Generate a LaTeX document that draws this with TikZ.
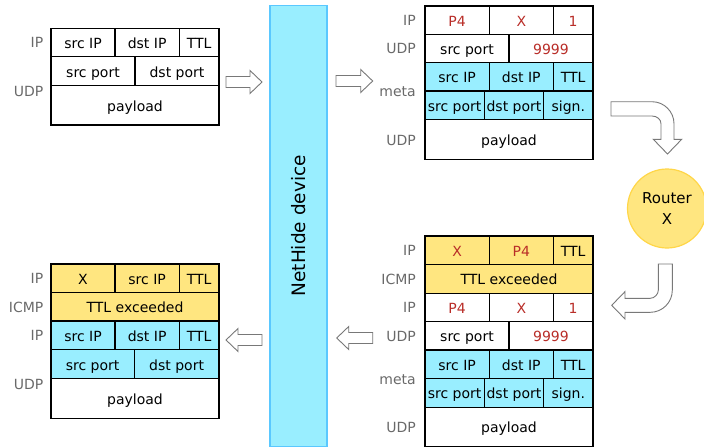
\documentclass[tikz,border=0pt]{standalone}
\usepackage{fontspec}
\setmainfont{DejaVu Sans}
\definecolor{cellcyan}{RGB}{153,238,255}
\definecolor{cellyellow}{RGB}{255,230,128}
\definecolor{barline}{RGB}{90,200,255}
\definecolor{routerline}{RGB}{255,214,72}
\definecolor{hot}{RGB}{185,45,40}
\definecolor{labelgray}{RGB}{105,105,105}
\definecolor{arrowgray}{RGB}{120,120,120}

% one header field: name, x1, y1, x2, y2, fill, text
\newcommand\pcell[7]{%
  \node[cellbox, fill=#6, minimum width={(#4-#2)*1pt}, minimum height={(#5-#3)*1pt}]
    (#1) at ({(#2+#4)/2},{(#3+#5)/2}) {#7};}

% hollow block arrow from x=#1 (back) to x=#2 (tip) at height #3
\newcommand\flowarrow[3]{%
  \draw[blockarrow] (#1,#3-5.5) -- ({#2-(#2-#1)/abs(#2-#1)*12},#3-5.5)
    -- ({#2-(#2-#1)/abs(#2-#1)*12},#3-11.5) -- (#2,#3)
    -- ({#2-(#2-#1)/abs(#2-#1)*12},#3+11.5) -- ({#2-(#2-#1)/abs(#2-#1)*12},#3+5.5)
    -- (#1,#3+5.5) -- cycle;}

\begin{document}
\begin{tikzpicture}[x=1pt,y=-1pt,
  font=\fontsize{14}{16}\selectfont,
  cellbox/.style={draw=black, line width=1.2pt, inner sep=0pt, outer sep=0pt,
    text height=13pt, text depth=1pt},
  hdr/.style={anchor=east, text=labelgray, inner sep=0pt,
    text height=13pt, text depth=1pt},
  blockarrow/.style={draw=arrowgray, fill=white, line width=0.9pt, line join=miter},
  bentarrow/.style={draw=arrowgray, fill=white, line width=0.9pt, line join=miter}
]
\useasboundingbox (0,0) rectangle (704,447);

% ---------------- NetHide device ----------------
\node[draw=barline, fill=cellcyan, line width=1.5pt, minimum width=57pt,
  minimum height=441pt, inner sep=0pt] (nethide) at (298.5,225.75) {};
\node[rotate=90, font=\fontsize{18.5}{20}\selectfont] (nethidelabel)
  at (nethide.center) {NetHide device};

% ---------------- original probe (top left) ----------------
\pcell{a1}{51}{28.3}{115}{56.7}{white}{src IP}
\pcell{a2}{115}{28.3}{179.3}{56.7}{white}{dst IP}
\pcell{a3}{179.3}{28.3}{219}{56.7}{white}{TTL}
\pcell{a4}{51}{56.7}{135}{85.7}{white}{src port}
\pcell{a5}{135}{56.7}{219}{85.7}{white}{dst port}
\pcell{a6}{51}{85.7}{219}{125}{white}{payload}
\node[hdr] (la1) at (43.5,41.5) {IP};
\node[hdr] (la2) at (43.5,90) {UDP};

% ---------------- rewritten probe (top right) ----------------
\pcell{b1}{425}{6}{489.3}{34.3}{white}{\textcolor{hot}{P4}}
\pcell{b2}{489.3}{6}{553.3}{34.3}{white}{\textcolor{hot}{X}}
\pcell{b3}{553.3}{6}{593}{34.3}{white}{\textcolor{hot}{1}}
\pcell{b4}{425}{34.3}{509}{62.7}{white}{src port}
\pcell{b5}{509}{34.3}{593}{62.7}{white}{\textcolor{hot}{9999}}
\pcell{b6}{425}{62.7}{489.3}{91}{cellcyan}{src IP}
\pcell{b7}{489.3}{62.7}{553.3}{91}{cellcyan}{dst IP}
\pcell{b8}{553.3}{62.7}{593}{91}{cellcyan}{TTL}
\pcell{b9}{425}{91}{484.3}{119.7}{cellcyan}{src port}
\pcell{b10}{484.3}{91}{543.7}{119.7}{cellcyan}{dst port}
\pcell{b11}{543.7}{91}{593}{119.7}{cellcyan}{sign.}
\pcell{b12}{425}{119.7}{593}{159.3}{white}{payload}
\node[hdr] (lb1) at (416,19.2) {IP};
\node[hdr] (lb2) at (416,47.7) {UDP};
\node[hdr] (lb3) at (416,90.5) {meta};
\node[hdr] (lb4) at (416,139) {UDP};

% ---------------- router ----------------
\node[circle, draw=routerline, fill=cellyellow, line width=1.2pt, minimum size=79pt,
  inner sep=0pt, align=center, font=\fontsize{15}{20.5}\selectfont]
  (router) at (667,208.5) {Router\\X};

% ---------------- ICMP reply (bottom right) ----------------
\pcell{c1}{425}{236}{489.3}{264.3}{cellyellow}{\textcolor{hot}{X}}
\pcell{c2}{489.3}{236}{553.3}{264.3}{cellyellow}{\textcolor{hot}{P4}}
\pcell{c3}{553.3}{236}{593}{264.3}{cellyellow}{TTL}
\pcell{c4}{425}{264.3}{593}{293.3}{cellyellow}{TTL exceeded}
\pcell{c5}{425}{293.3}{489.3}{321.7}{white}{\textcolor{hot}{P4}}
\pcell{c6}{489.3}{293.3}{553.3}{321.7}{white}{\textcolor{hot}{X}}
\pcell{c7}{553.3}{293.3}{593}{321.7}{white}{\textcolor{hot}{1}}
\pcell{c8}{425}{321.7}{509}{350}{white}{src port}
\pcell{c9}{509}{321.7}{593}{350}{white}{\textcolor{hot}{9999}}
\pcell{c10}{425}{350}{489.3}{378.3}{cellcyan}{src IP}
\pcell{c11}{489.3}{350}{553.3}{378.3}{cellcyan}{dst IP}
\pcell{c12}{553.3}{350}{593}{378.3}{cellcyan}{TTL}
\pcell{c13}{425}{378.3}{484.3}{407.3}{cellcyan}{src port}
\pcell{c14}{484.3}{378.3}{543.7}{407.3}{cellcyan}{dst port}
\pcell{c15}{543.7}{378.3}{593}{407.3}{cellcyan}{sign.}
\pcell{c16}{425}{407.3}{593}{446.3}{white}{payload}
\node[hdr] (lc1) at (416,249.3) {IP};
\node[hdr] (lc2) at (416,278) {ICMP};
\node[hdr] (lc3) at (416,306.6) {IP};
\node[hdr] (lc4) at (416,335) {UDP};
\node[hdr] (lc5) at (416,378) {meta};
\node[hdr] (lc6) at (416,426) {UDP};

% ---------------- restored reply (bottom left) ----------------
\pcell{d1}{51}{264}{115}{292.3}{cellyellow}{X}
\pcell{d2}{115}{264}{179.3}{292.3}{cellyellow}{src IP}
\pcell{d3}{179.3}{264}{219}{292.3}{cellyellow}{TTL}
\pcell{d4}{51}{292.3}{219}{321}{cellyellow}{TTL exceeded}
\pcell{d5}{51}{321}{115}{349.7}{cellcyan}{src IP}
\pcell{d6}{115}{321}{179.3}{349.7}{cellcyan}{dst IP}
\pcell{d7}{179.3}{321}{219}{349.7}{cellcyan}{TTL}
\pcell{d8}{51}{349.7}{134.3}{378.3}{cellcyan}{src port}
\pcell{d9}{134.3}{349.7}{219}{378.3}{cellcyan}{dst port}
\pcell{d10}{51}{378.3}{219}{418.3}{white}{payload}
\node[hdr] (ld1) at (43.5,277.3) {IP};
\node[hdr] (ld2) at (43.5,306) {ICMP};
\node[hdr] (ld3) at (43.5,334.5) {IP};
\node[hdr] (ld4) at (43.5,383.5) {UDP};

% ---------------- straight flow arrows ----------------
\flowarrow{226}{262}{82}
\flowarrow{336}{372.7}{81}
\flowarrow{372.7}{336.7}{338}
\flowarrow{262}{226}{340}

% ---------------- bent arrows around the router ----------------
\draw[bentarrow] (611,101.7) -- (652,101.7)
  .. controls (664.1,101.7) and (674,111.6) .. (674,123.7)
  -- (674,139.3) -- (681.7,139.3) -- (667.5,154) -- (653.3,139.3) -- (661,139.3)
  -- (661,123.7) .. controls (661,119.4) and (657,116) .. (652,116)
  -- (611,116) -- cycle;
\draw[bentarrow] (658.3,264) -- (672.3,264) -- (672.3,290.3)
  .. controls (672.3,302.4) and (662.4,312.3) .. (650.3,312.3)
  -- (625,312.3) -- (625,319) -- (611.7,305.3) -- (625,291.6) -- (625,298.3)
  -- (650.3,298.3) .. controls (654.7,298.3) and (658.3,293.9) .. (658.3,290.3)
  -- cycle;
\end{tikzpicture}
\end{document}
